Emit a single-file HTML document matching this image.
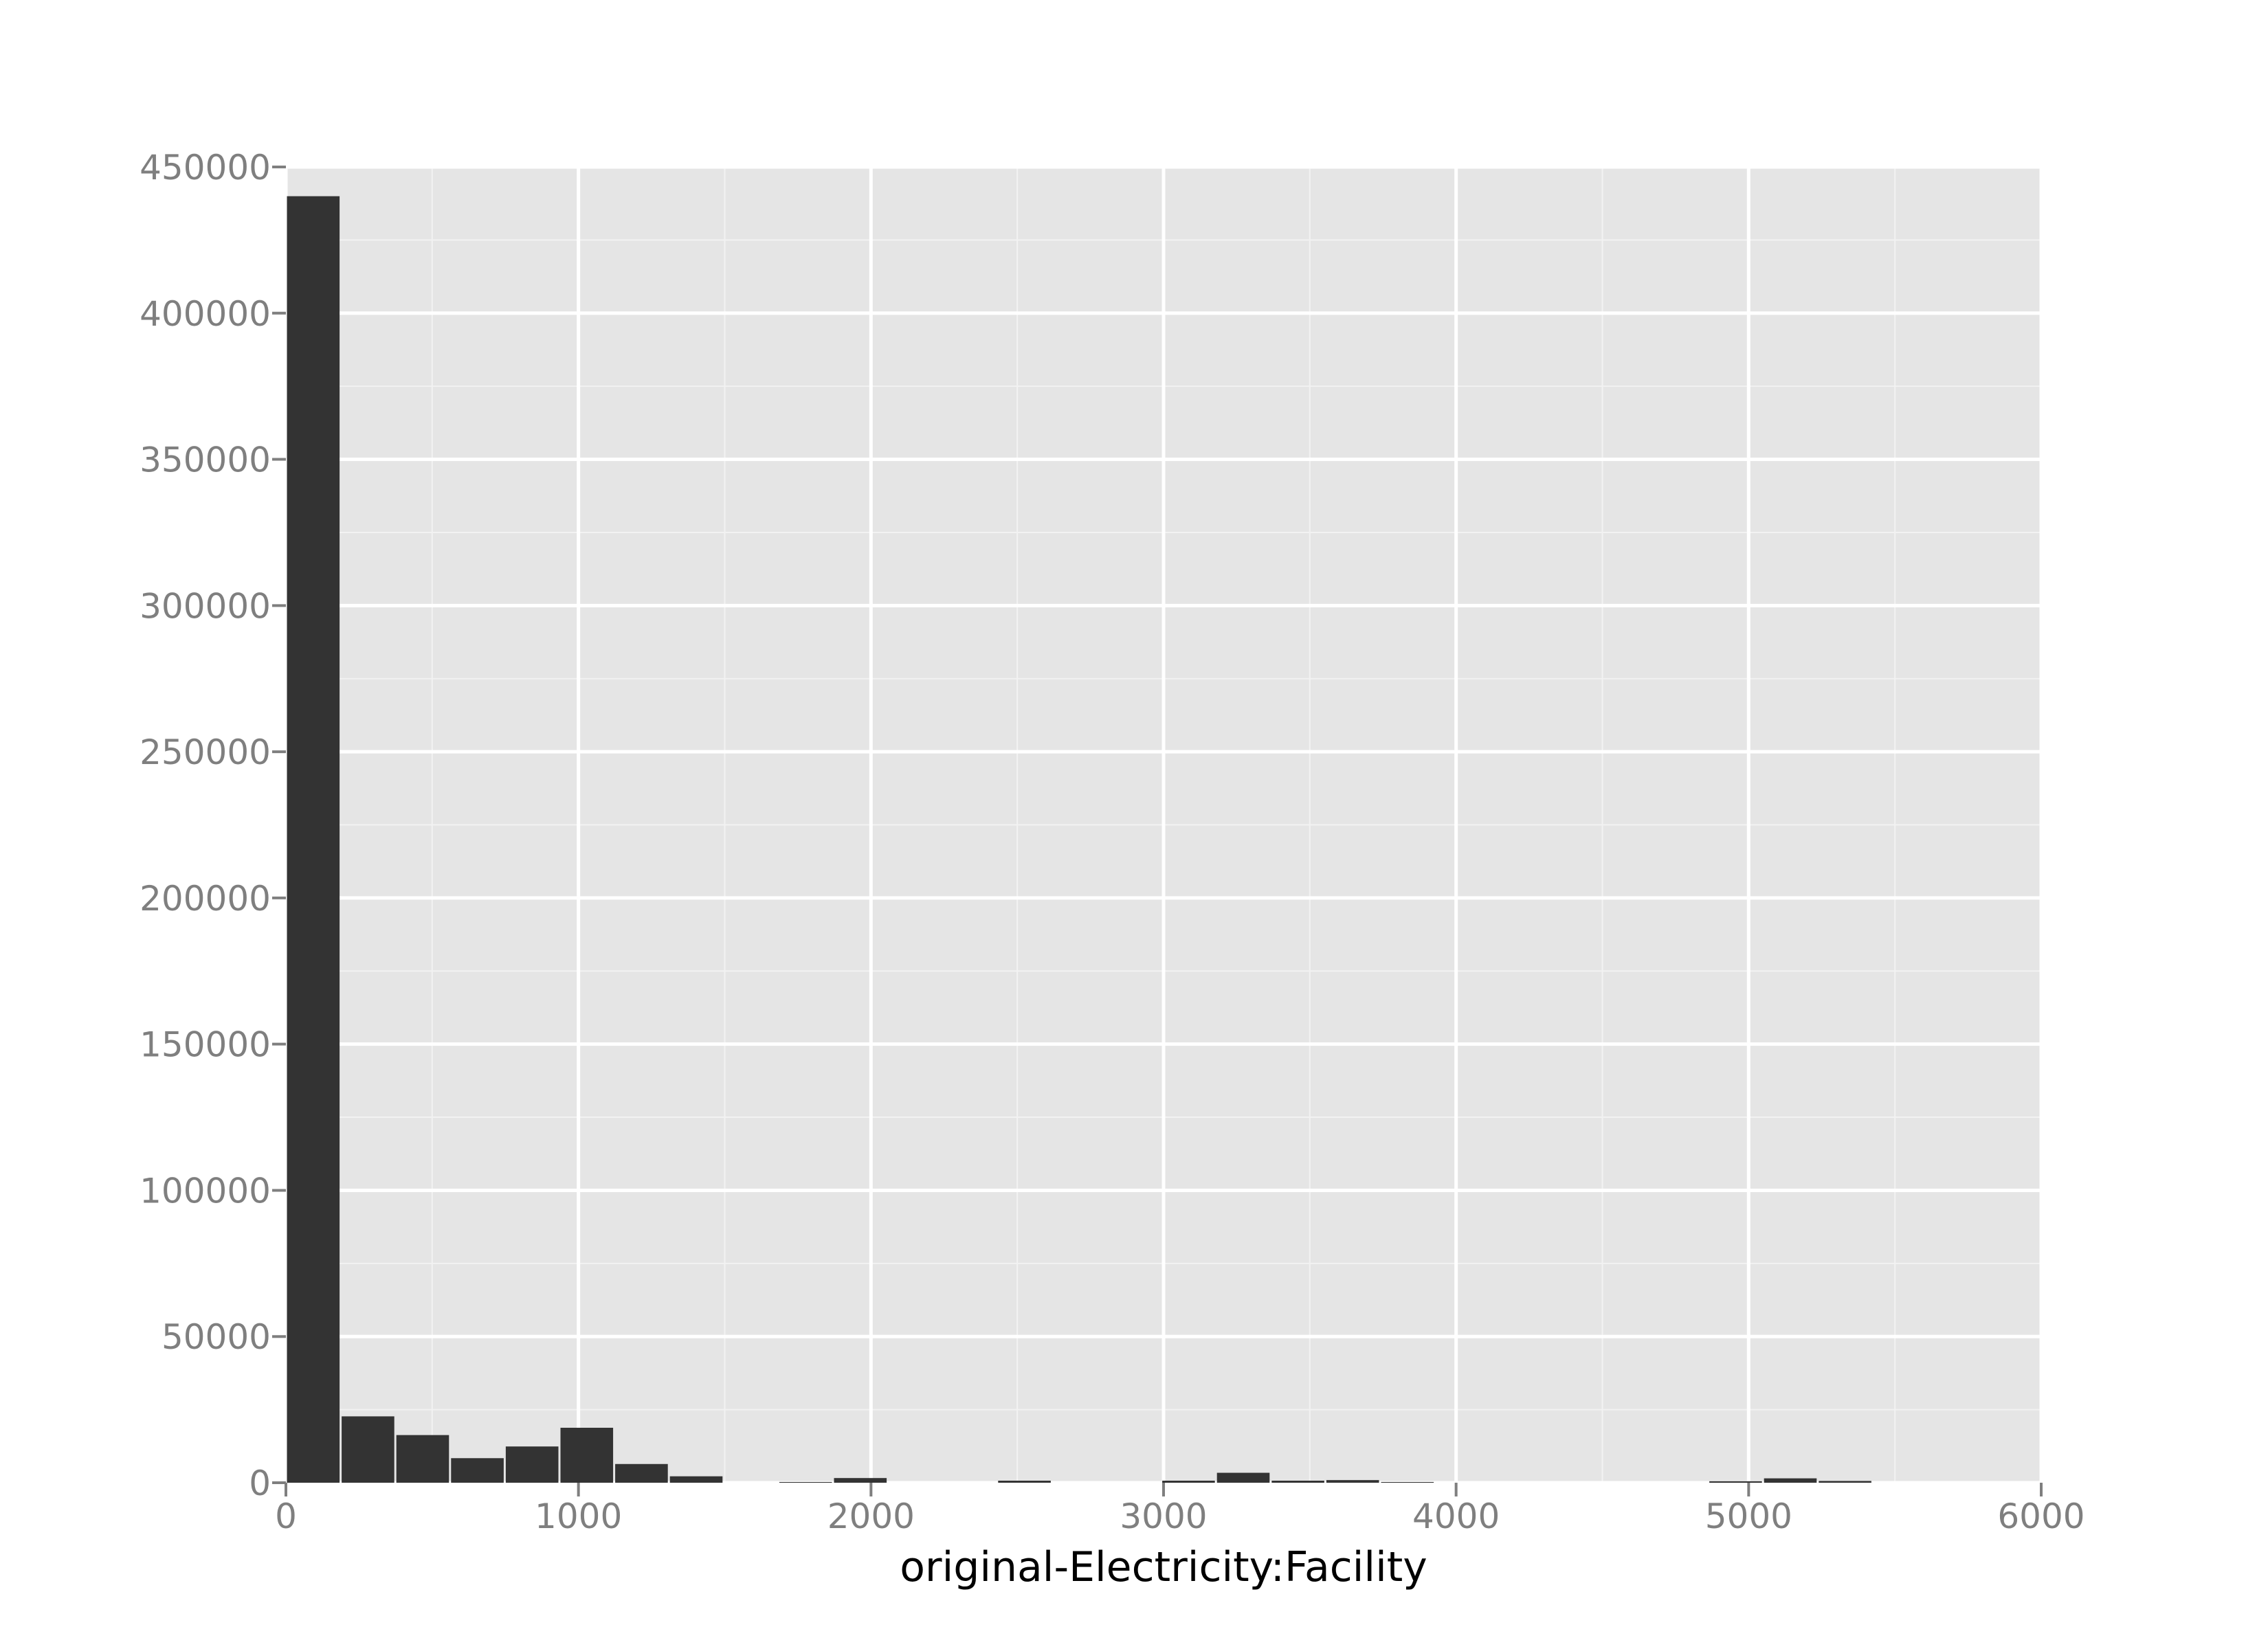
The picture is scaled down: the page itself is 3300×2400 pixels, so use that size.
<!DOCTYPE html>
<html><head><meta charset="utf-8"><style>
html,body{margin:0;padding:0;background:#fff;}
svg{display:block;}
text{font-family:"DejaVu Sans","Liberation Sans",sans-serif;}
</style></head>
<body>
<svg id="chart" width="3300" height="2400" xmlns="http://www.w3.org/2000/svg">
<rect x="416" y="243" width="2554" height="1915" fill="#e5e5e5"/>
<g id="grid"></g>
<g id="bars"></g>
<g id="axes"></g>
<text x="1693" y="2301" font-size="60" text-anchor="middle" fill="#000">original-Electricity:Facility</text>
</svg>
<script>
const binWidth = 187;
const binCounts = [440000, 22700, 16300, 8400, 12400, 18800, 6400, 2200, 0, 250, 1600, 0, 0, 700, 0, 0, 700, 3400, 700, 900, 250, 0, 0, 0, 0, 0, 500, 1500, 600, 0];
const xTicks = [0, 1000, 2000, 3000, 4000, 5000, 6000];
const yTicks = [0, 50000, 100000, 150000, 200000, 250000, 300000, 350000, 400000, 450000];

const X0 = 416, X1 = 2970, Y0 = 2158, Y1 = 243;
const xs = v => X0 + (v / 6000) * (X1 - X0);
const ys = v => Y0 - (v / 450000) * (Y0 - Y1);
const NS = "http://www.w3.org/2000/svg";
function mk(tag, attrs, parent) {
  const e = document.createElementNS(NS, tag);
  for (const k in attrs) e.setAttribute(k, attrs[k]);
  parent.appendChild(e);
  return e;
}
const grid = document.getElementById('grid');
const bars = document.getElementById('bars');
const axes = document.getElementById('axes');

for (let i = 0; i < xTicks.length - 1; i++) {
  const xm = xs((xTicks[i] + xTicks[i + 1]) / 2);
  const l = mk('line', {x1: xm, x2: xm, y1: Y1, y2: Y0, stroke: '#f2f2f2', 'stroke-width': 2}, grid);
  
  
}
for (let i = 0; i < yTicks.length - 1; i++) {
  const ym = ys((yTicks[i] + yTicks[i + 1]) / 2);
  const l = mk('line', {x1: X0, x2: X1, y1: ym, y2: ym, stroke: '#f2f2f2', 'stroke-width': 2}, grid);
  
  
}
xTicks.forEach(t => {
  const l = mk('line', {x1: xs(t), x2: xs(t), y1: Y1, y2: Y0, stroke: '#fff', 'stroke-width': 5}, grid);
  
  
});
yTicks.forEach(t => {
  const l = mk('line', {x1: X0, x2: X1, y1: ys(t), y2: ys(t), stroke: '#fff', 'stroke-width': 5}, grid);
  
  
});
binCounts.forEach((c, i) => {
  if (c <= 0) return;
  const xa = xs(i * binWidth), xb = xs((i + 1) * binWidth);
  const yt = ys(c);
  const r = mk('rect', {x: xa + 1.5, y: yt, width: xb - xa - 3, height: Math.max(Y0 - yt, 1), fill: '#333333'}, bars);
  
  
});
xTicks.forEach(t => {
  const l = mk('line', {x1: xs(t), x2: xs(t), y1: Y0, y2: Y0 + 20, stroke: '#7f7f7f', 'stroke-width': 4}, axes);
  
  
  const tx = mk('text', {x: xs(t), y: Y0 + 66, 'font-size': 50, 'text-anchor': 'middle', fill: '#7f7f7f'}, axes);
  tx.textContent = t;
  
  
});
yTicks.forEach(t => {
  const l = mk('line', {x1: X0 - 20, x2: X0, y1: ys(t), y2: ys(t), stroke: '#7f7f7f', 'stroke-width': 4}, axes);
  
  
  const tx = mk('text', {x: X0 - 22, y: ys(t) + 18, 'font-size': 50, 'text-anchor': 'end', fill: '#7f7f7f'}, axes);
  tx.textContent = t;
  
  
});
</script>
</body></html>
